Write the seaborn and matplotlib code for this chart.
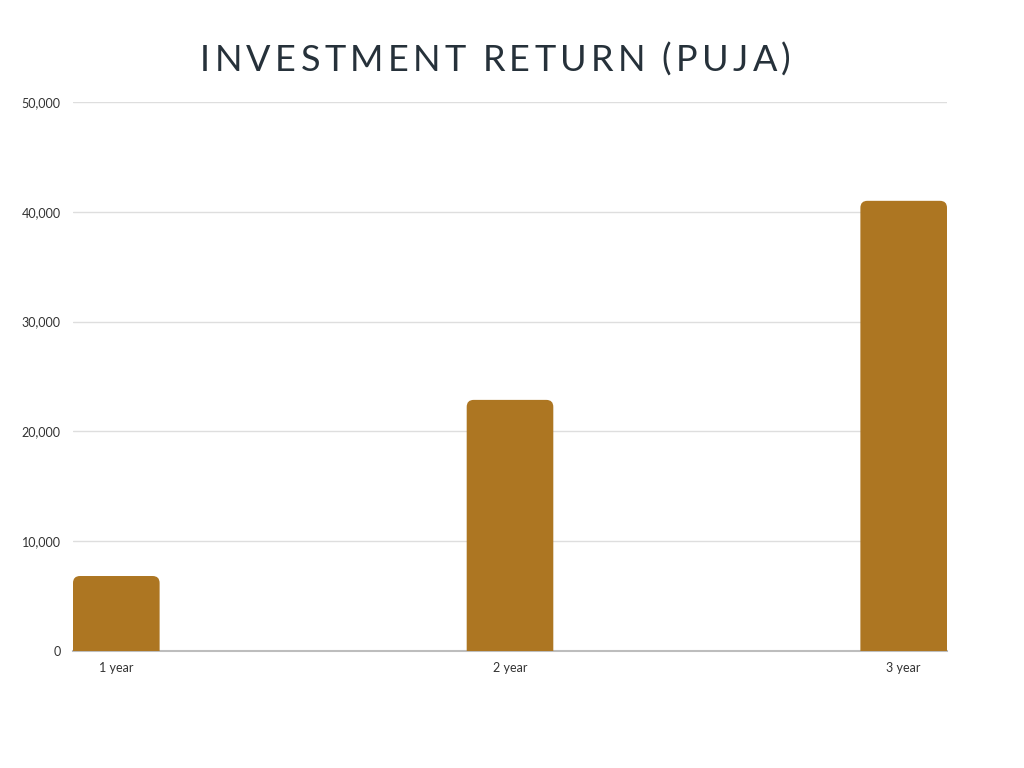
import matplotlib
matplotlib.use("Agg")
import matplotlib.pyplot as plt
import seaborn as sns
import pandas as pd
from matplotlib.patches import FancyBboxPatch
from matplotlib.transforms import IdentityTransform
from matplotlib.ticker import FuncFormatter

categories = ["1 year", "2 year", "3 year"]
values = [6830, 22870, 41000]
title = "INVESTMENT RETURN (PUJA)"
yticks = [0, 10000, 20000, 30000, 40000, 50000]

bar_color = "#AD7622"
text_color = "#333333"

sns.set_theme(style="white")
plt.rcParams["font.family"] = ["Lato", "DejaVu Sans"]

df = pd.DataFrame({"period": categories, "value": values})

fig = plt.figure(figsize=(10.24, 7.68), dpi=100)
ax = fig.add_axes([73 / 1024, 1 - 651 / 768, 874 / 1024, 549 / 768])

sns.barplot(data=df, x="period", y="value", color=bar_color, saturation=1,
            width=0.22, ax=ax, zorder=3)

ax.set_xlim(-0.11, 2.11)
ax.set_ylim(0, 50000)
ax.set_yticks(yticks)
ax.yaxis.set_major_formatter(FuncFormatter(lambda v, p: f"{int(v):,}"))
ax.grid(axis="y", color="#dedede", linewidth=1, zorder=0)
ax.set_axisbelow(True)
for s in ["top", "right", "left"]:
    ax.spines[s].set_visible(False)
ax.spines["bottom"].set_color("#bdbdbd")
ax.spines["bottom"].set_linewidth(1.5)
ax.spines["bottom"].set_zorder(5)
ax.set_xlabel("")
ax.set_ylabel("")
ax.tick_params(axis="both", length=0, labelsize=9, labelcolor=text_color)
ax.tick_params(axis="y", pad=9)
ax.tick_params(axis="x", pad=8)

# Round the top corners of the bars
fig.canvas.draw()
radius = 7
for p in list(ax.patches):
    bb = p.get_window_extent()
    fb = FancyBboxPatch((bb.x0 + radius, bb.y0 - 3 * radius),
                        bb.width - 2 * radius, bb.height + 2 * radius,
                        boxstyle=f"round,pad={radius}",
                        transform=IdentityTransform(),
                        facecolor=bar_color, edgecolor="none", zorder=3)
    fb.set_clip_box(ax.bbox)
    fig.add_artist(fb)
    p.set_visible(False)

# Letter-spaced title
renderer = fig.canvas.get_renderer()
x = 200.0
y_base = 768 - 71
tracking = 4.4
for ch in title:
    t = fig.text(x / 1024, y_base / 768, ch, fontsize=26, color="#26313a",
                 family=["Lato", "DejaVu Sans"], ha="left", va="baseline")
    w = t.get_window_extent(renderer=renderer).width
    if ch == " ":
        w = 7.5
    x += w + tracking

fig.savefig("out.png", dpi=100)
